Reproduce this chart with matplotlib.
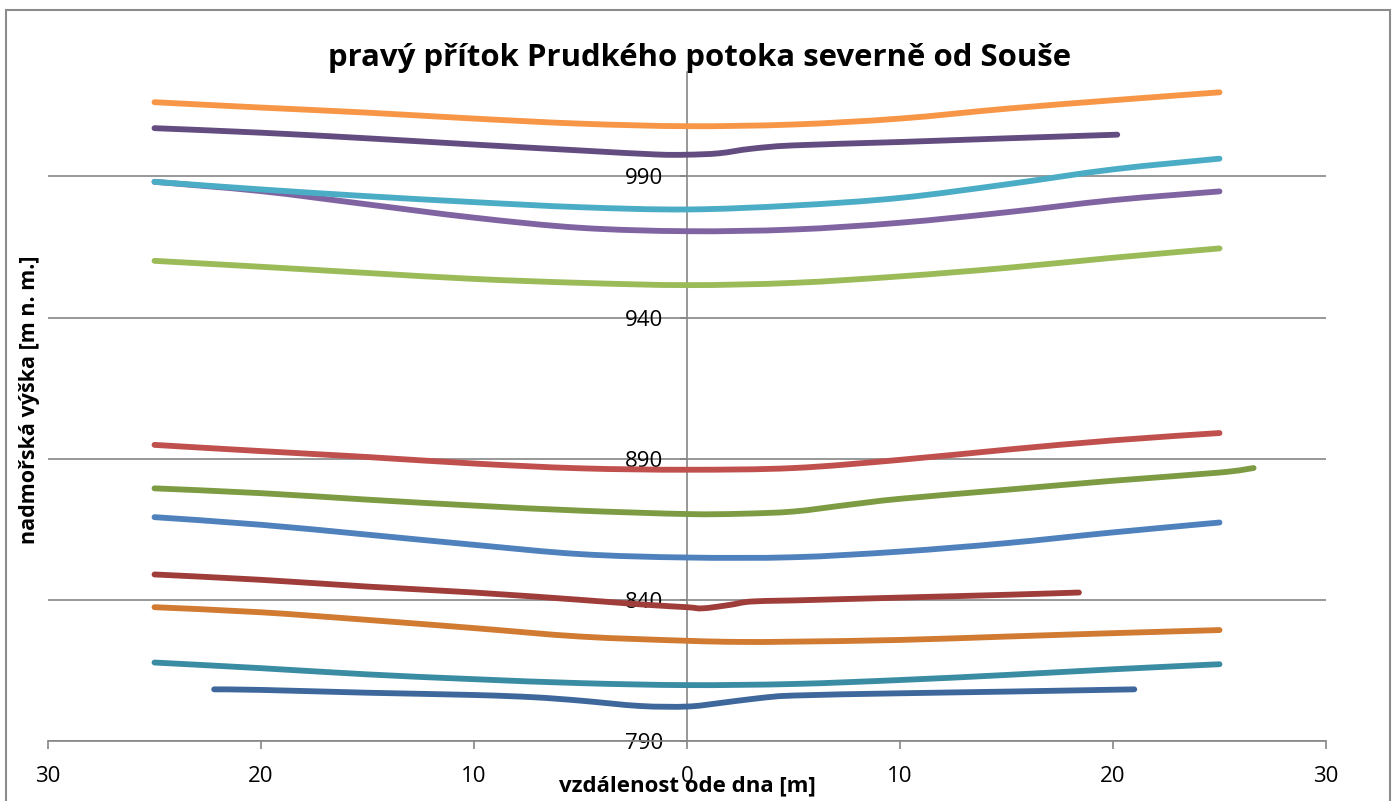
import matplotlib.pyplot as plt
from matplotlib.patches import Rectangle, PathPatch
from matplotlib.path import Path

plt.rcParams['font.family'] = ['Open Sans', 'DejaVu Sans']

# body series, top to bottom (elevation in m a.s.l. vs distance from thalweg)
x_std = [-25, -20, -15, -10, -5, 0, 5, 10, 15, 20, 25]

y_orange = [1016.3, 1014.4, 1012.6, 1010.5, 1008.7, 1007.8, 1008.4, 1010.5, 1014.0, 1017.0, 1019.8]

x_dpurple = [-25, -20, -15, -10, -5, -1.5, 0, 1.5, 3, 5, 10, 15, 20.2]
y_dpurple = [1007.1, 1005.5, 1003.5, 1001.3, 999.2, 997.8, 997.7, 998.2, 999.8, 1001.0, 1002.2, 1003.5, 1004.8]

y_purple = [988.1, 984.8, 980.1, 975.4, 971.8, 970.6, 971.2, 973.6, 977.3, 981.6, 984.7]
y_cyan = [988.1, 985.4, 983.0, 980.9, 979.1, 978.3, 979.7, 982.4, 987.2, 992.5, 996.3]
y_lgreen = [960.1, 958.0, 955.8, 953.7, 952.3, 951.5, 952.3, 954.6, 957.6, 961.2, 964.5]
y_red = [894.9, 892.7, 890.6, 888.3, 886.6, 886.1, 886.7, 889.6, 893.2, 896.5, 899.1]

x_olive = [-25, -20, -15, -10, -5, 0, 2.5, 5, 7.5, 10, 15, 20, 25, 26.6]
y_olive = [879.5, 877.8, 875.5, 873.4, 871.6, 870.4, 870.5, 871.3, 873.6, 875.8, 879.0, 882.2, 885.1, 886.7]

y_blue = [869.3, 866.6, 863.1, 859.5, 856.2, 855.0, 855.1, 857.1, 860.1, 863.9, 867.4]

x_dred = [-25, -20, -15, -10, -5, -2, 0, 0.75, 2, 3, 5, 10, 15, 18.4]
y_dred = [849.0, 847.1, 844.7, 842.6, 840.0, 838.3, 837.4, 837.0, 838.2, 839.4, 839.8, 840.8, 841.8, 842.6]

x_brown = [-25, -20, -15, -10, -5, 0, 2.5, 5, 10, 15, 20, 25]
y_brown = [837.4, 835.6, 832.9, 830.0, 827.0, 825.5, 825.1, 825.2, 825.8, 827.0, 828.2, 829.3]

y_teal = [817.8, 815.8, 813.6, 811.9, 810.5, 809.8, 810.2, 811.6, 813.4, 815.4, 817.2]

x_steel = [-22.2, -20, -15, -10, -7.2, -5, -2.2, 0, 1.5, 3.3, 5, 10, 15, 21]
y_steel = [808.3, 808.1, 807.1, 806.3, 805.5, 804.3, 802.4, 802.2, 803.4, 805.1, 806.1, 806.9, 807.5, 808.3]

series = [
    (x_std, y_orange, '#F79646'),
    (x_dpurple, y_dpurple, '#634C80'),
    (x_std, y_purple, '#8064A2'),
    (x_std, y_cyan, '#4BACC6'),
    (x_std, y_lgreen, '#9BBB59'),
    (x_std, y_red, '#C0504D'),
    (x_olive, y_olive, '#7D9B43'),
    (x_std, y_blue, '#4F81BD'),
    (x_dred, y_dred, '#9F3D3A'),
    (x_brown, y_brown, '#D07A32'),
    (x_std, y_teal, '#3A8CA3'),
    (x_steel, y_steel, '#3E679B'),
]

x_ticks = [-30, -20, -10, 0, 10, 20, 30]
x_ticklabels = ['30', '20', '10', '0', '10', '20', '30']
y_ticks = [790, 840, 890, 940, 990]


def smooth_path(xs, ys):
    # excel-like smoothed line: cubic bezier through every point
    pts = list(zip(xs, ys))
    n = len(pts)
    verts = [pts[0]]
    codes = [Path.MOVETO]
    for i in range(n - 1):
        p0 = pts[i - 1] if i > 0 else pts[i]
        p1 = pts[i]
        p2 = pts[i + 1]
        p3 = pts[i + 2] if i + 2 < n else pts[i + 1]
        c1 = (p1[0] + (p2[0] - p0[0]) / 6, p1[1] + (p2[1] - p0[1]) / 6)
        c2 = (p2[0] - (p3[0] - p1[0]) / 6, p2[1] - (p3[1] - p1[1]) / 6)
        verts += [c1, c2, p2]
        codes += [Path.CURVE4] * 3
    return Path(verts, codes)


W, H = 1396, 801
fig = plt.figure(figsize=(W / 100, H / 100), dpi=100)
fig.patch.set_facecolor('white')
fig.add_artist(Rectangle((6 / W, -0.05), 1384 / W, 1.05 - 10 / H, transform=fig.transFigure,
                         fill=False, edgecolor='#8c8c8c', lw=1.5))

ax = fig.add_axes([48 / W, 1 - 741 / H, 1278 / W, (741 - 72) / H])

for xs, ys, c in series:
    ax.add_patch(PathPatch(smooth_path(xs, ys), fill=False, edgecolor=c, lw=4.2,
                           capstyle='round', joinstyle='round', zorder=3))

ax.set_xlim(-30, 30)
ax.set_ylim(790, 1027)

gray = '#868686'
ax.spines['top'].set_visible(False)
ax.spines['right'].set_visible(False)
ax.spines['left'].set_position(('data', 0))
ax.spines['left'].set_color(gray)
ax.spines['left'].set_linewidth(1.2)
ax.spines['bottom'].set_color(gray)
ax.spines['bottom'].set_linewidth(1.2)

ax.set_yticks(y_ticks)
ax.set_xticks(x_ticks)
ax.set_xticklabels(x_ticklabels)
ax.tick_params(axis='y', direction='out', length=5, width=1.2, color=gray, pad=12, labelsize=16)
ax.tick_params(axis='x', direction='out', length=6, width=1.2, color=gray, pad=12, labelsize=16)
ax.yaxis.grid(True, color=gray, lw=1.2)
ax.set_axisbelow(True)

fig.text(700 / W, 1 - 58 / H, 'pravý přítok Prudkého potoka severně od Souše',
         ha='center', va='center', fontsize=22.4, fontweight='bold')
fig.text(687 / W, 1 - 786 / H, 'vzdálenost ode dna [m]',
         ha='center', va='center', fontsize=16, fontweight='bold')
fig.text(30 / W, 1 - 400 / H, 'nadmořská výška [m n. m.]',
         ha='center', va='center', rotation=90, fontsize=15.5, fontweight='bold')

fig.savefig('out.png', dpi=100)
